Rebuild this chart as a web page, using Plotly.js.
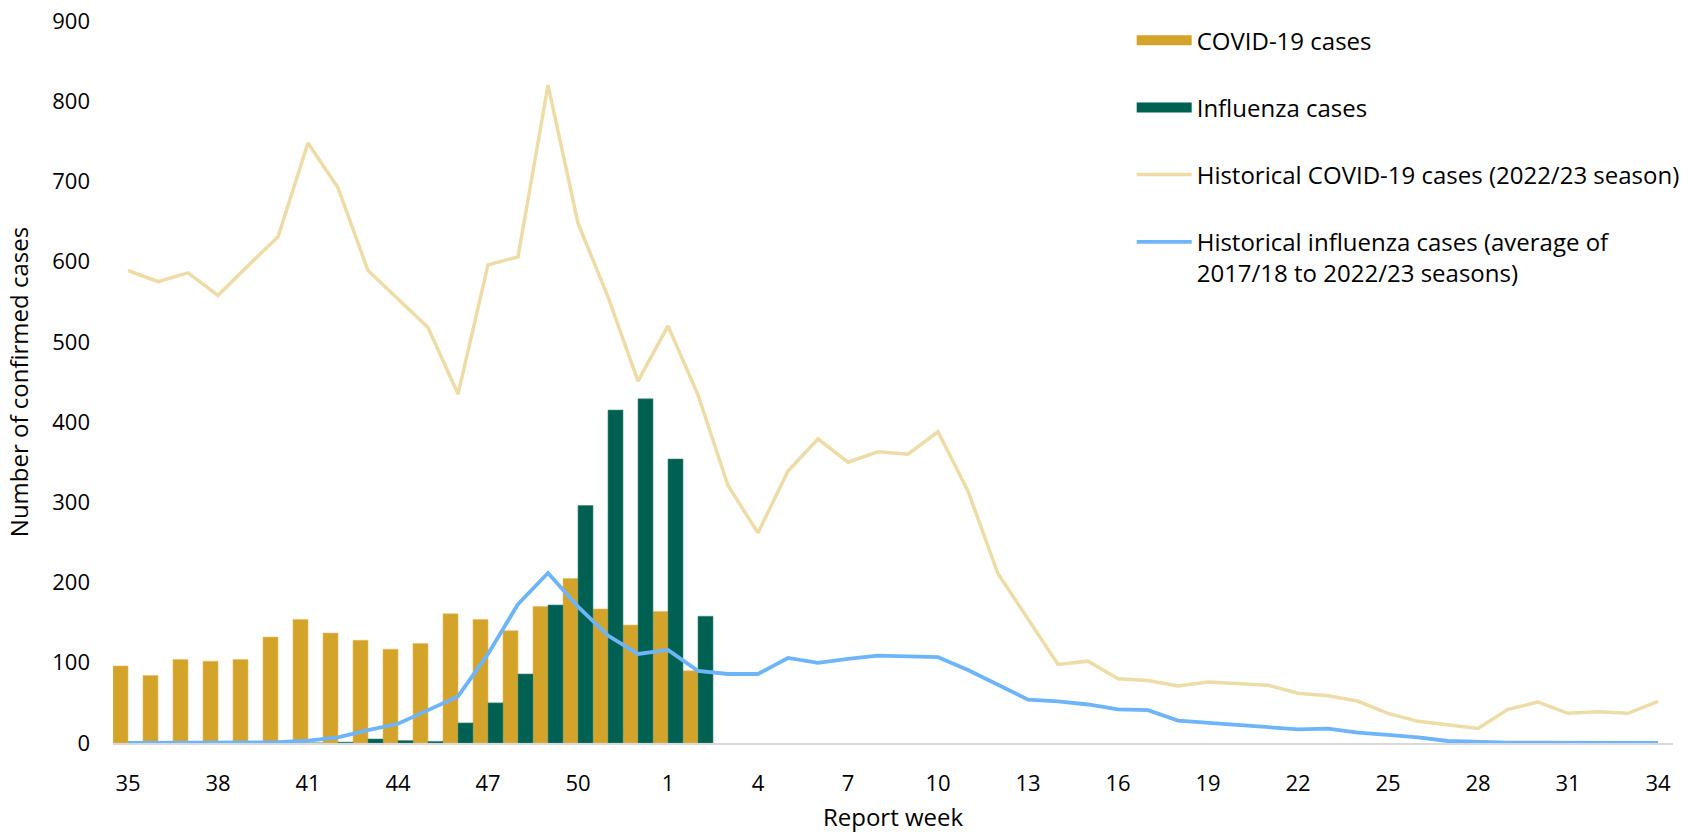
<!DOCTYPE html>
<html>
<head>
<meta charset="utf-8">
<script src="https://cdn.plot.ly/plotly-3.0.1.min.js"></script>
<style>
  html, body { margin: 0; padding: 0; background: #ffffff; }
  #chart { width: 1697px; height: 833px; }
</style>
</head>
<body>
<div id="chart"></div>
<script>
// Report weeks: 35..52 then 1..34
const weeks = ["35","36","37","38","39","40","41","42","43","44","45","46","47","48","49","50","51","52",
  "1","2","3","4","5","6","7","8","9","10","11","12","13","14","15","16","17","18","19","20",
  "21","22","23","24","25","26","27","28","29","30","31","32","33","34"];

// Current season bars (weeks 35 .. 2)
const covidCases = [96, 84, 104, 102, 104, 132, 154, 137, 128, 117, 124, 161, 154, 140, 170, 205, 167, 147, 164, 90];
const fluCases   = [0, 0, 0, 0, 0, 0, 0, 1, 5, 3, 2, 25, 50, 86, 172, 296, 415, 429, 354, 158];

// Historical COVID-19 cases (2022/23 season)
const histCovid = [589, 575, 586, 558, 595, 631, 748, 692, 589, 553, 518, 435, 596, 606, 820, 648, 556, 451,
  520, 434, 321, 262, 339, 379, 350, 363, 360, 388, 314, 211, 154, 98, 102, 80, 78, 71, 76, 74,
  72, 62, 59, 52, 37, 27, 22, 18, 42, 51, 37, 39, 37, 52];

// Historical influenza cases (average of 2017/18 to 2022/23 seasons)
const histFlu = [0, 0, 0, 0, 0, 1, 3, 7, 16, 24, 41, 58, 111, 173, 212, 170, 134, 111,
  116, 90, 86, 86, 106, 100, 105, 109, 108, 107, 91, 73, 54, 52, 48, 42, 41, 28, 25, 22,
  20, 17, 18, 13, 10, 7, 2.5, 1, 0.5, 0.5, 0.5, 0, 0.5, 0];

const tickWeeks = ["35","38","41","44","47","50","1","4","7","10","13","16","19","22","25","28","31","34"];

const seriesNames = [
  "COVID-19 cases",
  "Influenza cases",
  "Historical COVID-19 cases (2022/23 season)",
  "Historical influenza cases (average of<br>2017/18 to 2022/23 seasons)"
];

const barWeeks = weeks.slice(0, covidCases.length);

const FONT = "Open Sans, Noto Sans, sans-serif";
const GOLD = "#D4A32A", GREEN = "#006152", TAN = "#EEDCA7", BLUE = "#6DB5F8";

const traces = [
  // legend keys for the bar series (wide block swatches, as in the original)
  {
    type: "scatter", mode: "lines", x: [null], y: [null], name: seriesNames[0], legendgroup: "a",
    line: { color: GOLD, width: 15 }, hoverinfo: "skip"
  },
  {
    type: "scatter", mode: "lines", x: [null], y: [null], name: seriesNames[1], legendgroup: "b",
    line: { color: GREEN, width: 15 }, hoverinfo: "skip"
  },
  {
    type: "bar", x: barWeeks, y: covidCases, name: seriesNames[0], legendgroup: "a", showlegend: false,
    marker: { color: GOLD, line: { color: "#E2BE63", width: 0.6 } }
  },
  {
    type: "bar", x: barWeeks, y: fluCases, name: seriesNames[1], legendgroup: "b", showlegend: false,
    marker: { color: GREEN, line: { color: "#3F8A7D", width: 0.6 } }
  },
  {
    type: "scatter", mode: "lines", x: weeks, y: histCovid, name: seriesNames[2], legendgroup: "c",
    line: { color: TAN, width: 3.5 }
  },
  {
    type: "scatter", mode: "lines", x: weeks, y: histFlu, name: seriesNames[3], legendgroup: "d",
    line: { color: BLUE, width: 3.8 }
  }
];

const layout = {
  width: 1697,
  height: 833,
  paper_bgcolor: "#ffffff",
  plot_bgcolor: "#ffffff",
  font: { family: FONT, size: 22, color: "#000000" },
  margin: { l: 113, r: 22, t: 21, b: 90, pad: 0 },
  barmode: "group",
  bargap: 0,
  bargroupgap: 0,
  showlegend: true,
  legend: {
    x: 0.653, y: 1.004, xanchor: "left", yanchor: "top",
    traceorder: "grouped",
    tracegroupgap: 33,
    valign: "top",
    itemwidth: 55,
    bgcolor: "rgba(0,0,0,0)",
    font: { family: FONT, size: 24, color: "#000000" }
  },
  xaxis: {
    type: "category",
    categoryorder: "array",
    categoryarray: weeks,
    range: [-0.5, weeks.length - 0.5],
    tickmode: "array",
    tickvals: tickWeeks,
    ticktext: tickWeeks,
    ticks: "",
    ticklabelstandoff: 20,
    showgrid: false,
    zeroline: false,
    showline: true,
    linecolor: "#D9D9D9",
    linewidth: 2,
    tickfont: { family: FONT, size: 22, color: "#000000" },
    title: { text: "Report week", font: { family: FONT, size: 24, color: "#000000" }, standoff: 18 },
    automargin: false,
    fixedrange: true
  },
  yaxis: {
    range: [0, 900],
    dtick: 100,
    tick0: 0,
    ticks: "",
    ticklabelstandoff: 22,
    showgrid: false,
    zeroline: false,
    showline: false,
    tickfont: { family: FONT, size: 22, color: "#000000" },
    title: { text: "Number of confirmed cases", font: { family: FONT, size: 24, color: "#000000" }, standoff: 16 },
    automargin: false,
    fixedrange: true
  }
};

Plotly.newPlot("chart", traces, layout, { displayModeBar: false, staticPlot: true });
</script>
</body>
</html>
